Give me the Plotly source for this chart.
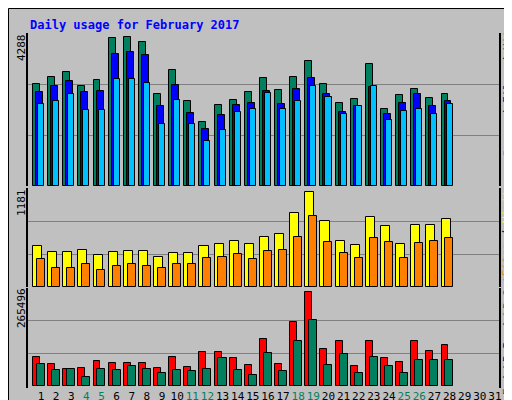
import plotly.graph_objects as go

days = list(range(1, 29))
hits = [2849, 3047, 3188, 2793, 2962, 4147, 4175, 4034, 2567, 3244, 2370, 1805, 2257, 2398,
        2624, 3018, 2680, 3047, 3498, 2849, 2313, 2426, 3413, 2172, 2539, 2708, 2454, 2567]
files = [2624, 2793, 2934, 2624, 2652, 3696, 3752, 3667, 2229, 2821, 2059, 1608, 2003, 2257,
         2313, 2652, 2285, 2708, 3018, 2567, 2088, 2229, 2765, 2031, 2313, 2567, 2229, 2370]
pages = [2299, 2370, 2567, 2144, 2144, 2990, 2990, 2877, 1749, 2398, 1749, 1269, 1580, 2088,
         2172, 2595, 2172, 2370, 2793, 2482, 2031, 2229, 2793, 1862, 2116, 2172, 2031, 2285]
visits = [490, 417, 417, 441, 380, 417, 429, 429, 356, 405, 405, 490, 515, 552,
          515, 601, 638, 883, 1128, 785, 552, 503, 834, 723, 515, 736, 736, 809]
sites = [331, 221, 221, 270, 208, 245, 270, 245, 221, 270, 270, 343, 356, 392,
         331, 429, 441, 601, 846, 539, 405, 343, 588, 539, 343, 527, 552, 588]
kb_f = [77978, 58483, 44558, 47343, 66838, 61268, 61268, 61268, 47343, 77978, 50128, 91902,
        91902, 75192, 55698, 128105, 58483, 172664, 253426, 100256, 122536, 52913, 122536,
        75192, 64053, 122536, 94687, 111396]
kb_out = [58483, 41774, 44558, 25064, 44558, 41774, 52913, 44558, 33419, 41774, 38989, 44558,
          75192, 41774, 30634, 89117, 38989, 122536, 178234, 55698, 86332, 33419, 77978,
          52913, 33419, 69623, 69623, 69623]
weekend = [4, 5, 11, 12, 18, 19, 25, 26]
max_hits, max_visits, max_kb = 4288, 1181, 265496

GREEN = '#00805F'
MONO = 'DejaVu Sans Mono'


def px(x):
    return (x - 20) / 471


def py(y):
    return (380 - y) / 355


def bar(y, color, offset, width, yaxis):
    return go.Bar(x=days, y=y, offset=offset, width=width, yaxis=yaxis, xaxis='x',
                  marker=dict(color=color, line=dict(color='black', width=1)),
                  showlegend=False, hoverinfo='skip')


fig = go.Figure()
fig.add_trace(bar(hits, GREEN, -0.53, 0.46, 'y'))
fig.add_trace(bar(files, '#0000FF', -0.33, 0.46, 'y'))
fig.add_trace(bar(pages, '#00C0FF', -0.2, 0.4, 'y'))
fig.add_trace(bar(visits, '#FFFF00', -0.53, 0.6, 'y2'))
fig.add_trace(bar(sites, '#FF8000', -0.27, 0.53, 'y2'))
fig.add_trace(bar(kb_f, '#FF0000', -0.53, 0.46, 'y3'))
fig.add_trace(bar(kb_out, GREEN, -0.27, 0.53, 'y3'))

ticktext = [f"<span style='color:{GREEN}'>{d}</span>" if d in weekend else str(d)
            for d in range(1, 32)]

yax = dict(showticklabels=False, ticks='', gridcolor='#808080', gridwidth=1, zeroline=False,
           showline=True, linecolor='black', linewidth=2, mirror=True, automargin=False)

fig.update_layout(
    width=512, height=400,
    margin=dict(l=20, r=21, t=25, b=20),
    paper_bgcolor='#C0C0C0', plot_bgcolor='#C0C0C0',
    barmode='overlay', bargap=0,
    font=dict(family=MONO, size=11, color='black'),
    xaxis=dict(range=[0.14, 31.27], tickvals=list(range(1, 32)), ticktext=ticktext,
               ticks='', showgrid=False, zeroline=False, anchor='y3', tickangle=0,
               automargin=False, tickfont=dict(family=MONO, size=11)),
    yaxis=dict(domain=[py(178), 1], range=[0, max_hits],
               tickvals=[max_hits / 3, 2 * max_hits / 3], **yax),
    yaxis2=dict(domain=[py(279), py(180)], range=[0, max_visits],
                tickvals=[max_visits / 3, 2 * max_visits / 3], **yax),
    yaxis3=dict(domain=[0, py(280)], range=[-6000, max_kb],
                tickvals=[max_kb / 3, 2 * max_kb / 3], **yax),
)

ann = [
    dict(x=px(20), y=py(8), text='<b>Daily usage for February 2017</b>', xanchor='left',
         yanchor='top', font=dict(color='#0000FF', size=12)),
    dict(x=px(13), y=py(40), text=str(max_hits), textangle=-90),
    dict(x=px(13), y=py(195), text=str(max_visits), textangle=-90),
    dict(x=px(13), y=py(300), text=str(max_kb), textangle=-90),
    dict(x=px(499), y=py(82), textangle=-90,
         text=f"<span style='color:#00C0FF'>Pages</span> / <span style='color:#0000FF'>Files</span>"
              f" / <span style='color:{GREEN}'>Hits</span>"),
    dict(x=px(499), y=py(222), textangle=-90,
         text="<span style='color:#FF8000'>Sites</span> / <span style='color:#FFFF00'>Visits</span>"),
    dict(x=px(499), y=py(338), textangle=-90,
         text=f"<span style='color:#FF0000'>kB F</span> / <span style='color:#0000FF'>kB In</span>"
              f" / <span style='color:{GREEN}'>kB Out</span>"),
]
for a in ann:
    a.setdefault('xanchor', 'center')
    a.setdefault('yanchor', 'middle')
    a.update(xref='paper', yref='paper', showarrow=False)
    fig.add_annotation(**a)

# outer frame with shadow
fig.add_shape(type='rect', xref='paper', yref='paper', x0=px(0.5), x1=px(507), y0=py(0.5), y1=py(395),
              line=dict(color='black', width=1), layer='below')
fig.add_shape(type='rect', xref='paper', yref='paper', x0=px(507), x1=px(512), y0=py(3), y1=py(400),
              fillcolor='#808080', line=dict(width=0), layer='below')
fig.add_shape(type='rect', xref='paper', yref='paper', x0=px(3), x1=px(512), y0=py(395), y1=py(400),
              fillcolor='#808080', line=dict(width=0), layer='below')

fig.write_html("out.html")
